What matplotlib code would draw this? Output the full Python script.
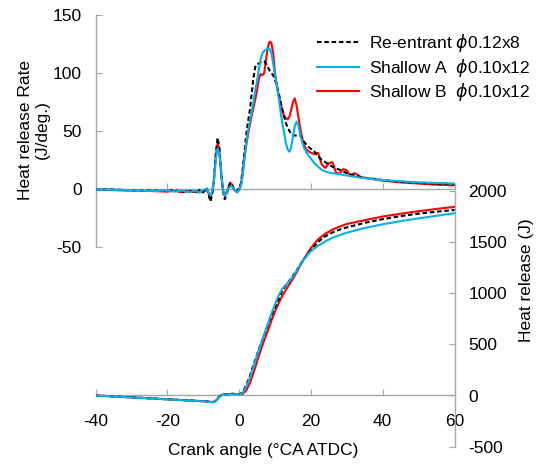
import numpy as np
import matplotlib
matplotlib.use('Agg')
import matplotlib.pyplot as plt

plt.rcParams['font.family'] = ['Liberation Sans', 'DejaVu Sans']
plt.rcParams['mathtext.fontset'] = 'dejavusans'
plt.rcParams['axes.unicode_minus'] = False

# heat release rate (J/deg.) against crank angle
ca_rate = np.concatenate([
    [-40, -36, -32, -28, -24, -20, -18, -16, -14, -12, -11, -10, -9],
    np.arange(-8.5, 18.01, 0.5),
    [19, 20, 21, 22, 23, 24, 25, 26, 27, 28, 29, 30, 31, 32, 33, 34, 36, 38, 40, 45, 50, 55, 60],
])
rate_reentrant = [
    -0.5, -0.5, -1, -1.5, -1.5, -2, -1, -3, -1.5, -3.5, -1, -3, 1,
    -5, -11, -5, 8, 30, 44, 36, 14, -2, -9, -5, 0, 5, 4, 0, -2, -2, 1,
    4, 17, 32, 47, 58, 68, 82, 96, 105, 108, 108, 109, 110, 110, 108, 105, 102, 100,
    98, 94, 89, 83, 76, 69, 63, 57, 53, 50, 47, 46, 46, 46, 46, 46, 44, 41,
    37, 34.5, 32, 28, 25, 23, 21, 19, 17.5, 16.5, 15, 13.5, 12.5, 11.5, 11, 10,
    9, 8.5, 7.5, 6, 5, 4.5, 4,
]
rate_shallow_a = [
    -0.5, -0.8, -1, -1.5, -2, -1.5, -2.5, -1.5, -3, -1.5, -3.5, -1, 0,
    -3, -6, -2, 8, 25, 35, 30, 14, -1, -6, -4, 0, 2, 2, 0, -2, -3, -1,
    2, 12, 26, 40, 50, 58, 66, 75, 85, 93, 103, 112, 117, 119, 120, 121, 121, 117,
    108, 98, 89, 79, 68, 57, 49, 40, 34, 32, 36, 45, 54, 58, 55, 47, 41, 36,
    30, 26, 22, 19, 16.5, 15, 14, 13.5, 13, 12.5, 12, 11.5, 11, 10.5, 10, 9.5,
    9, 8, 7.5, 6.5, 5.5, 5, 4.5,
]
rate_shallow_b = [
    -0.5, -1, -1.5, -1.5, -2, -2.5, -1.5, -3, -1.5, -3, -1, -3, 0,
    -4, -8, -3, 8, 28, 39, 33, 14, -1, -6, -3, 1, 5, 4, 0, -2, -3, -1,
    3, 14, 27, 38, 47, 55, 63, 70, 77, 85, 95, 99, 98, 100, 112, 122, 127, 126,
    117, 100, 90, 81, 74, 68, 63, 61, 60, 62, 68, 75, 78, 72, 62, 53, 45, 38,
    33, 31, 30, 31, 21, 18, 22, 23, 14, 13, 17, 16, 11, 13.5, 12, 10,
    9, 8, 7, 5.5, 4.5, 3.5, 3,
]

# cumulative heat release (J)
ca_heat = [-40, -30, -20, -10, -7.5, -7, -6.5, -6, -5.5, -5, -4.5, -4, -3, -2, -1, 0,
           1, 2, 3, 4, 5, 6, 7, 8, 9, 10, 11, 12, 13, 14, 15, 16, 17, 18,
           20, 22, 24, 26, 28, 30, 35, 40, 45, 50, 55, 60]
heat_reentrant = [0, -18, -37, -55, -63, -62, -50, -30, -10, 3, 10, 12, 12, 18, 14, 12,
                  30, 100, 190, 300, 400, 500, 590, 690, 780, 860, 940, 1020, 1075, 1120,
                  1170, 1220, 1275, 1330,
                  1420, 1500, 1555, 1592, 1620, 1642, 1686, 1722, 1752, 1776, 1795, 1812]
heat_shallow_a = [0, -19, -38, -57, -66, -65, -52, -34, -15, 0, 8, 10, 10, 12, 12, 10,
                  25, 85, 170, 280, 390, 490, 595, 700, 800, 890, 975, 1040, 1080, 1115,
                  1160, 1215, 1275, 1330,
                  1410, 1462, 1505, 1540, 1566, 1590, 1636, 1672, 1703, 1730, 1755, 1780]
heat_shallow_b = [0, -18, -37, -56, -64, -63, -51, -32, -12, 2, 9, 11, 11, 14, 13, 10,
                  15, 50, 120, 220, 330, 440, 540, 630, 730, 820, 900, 970, 1030, 1085,
                  1140, 1200, 1270, 1330,
                  1440, 1525, 1580, 1620, 1650, 1675, 1712, 1748, 1775, 1800, 1822, 1842]

labels = ['Re-entrant $\\phi$0.12x8', 'Shallow A  $\\phi$0.10x12', 'Shallow B  $\\phi$0.10x12']
x_ticks = [-40, -20, 0, 20, 40, 60]

grey = '#a6a6a6'
blue = '#00b0f0'
red = '#ff0000'
fs = 12.5

fig = plt.figure(figsize=(5.58, 4.65), dpi=100)
W, H = 558.0, 465.0
x0, x1 = 95.5, 454.5

# upper axes: rate, left scale
ax1 = fig.add_axes([x0 / W, 1 - 246.7 / H, (x1 - x0) / W, (246.7 - 15) / H])
ax1.patch.set_alpha(0)
ax1.plot(ca_rate, rate_shallow_b, color=red, lw=1.5, zorder=2)
ax1.plot(ca_rate, rate_reentrant, color='black', lw=1.5, dashes=(2.2, 1.3), zorder=3)
ax1.plot(ca_rate, rate_shallow_a, color=blue, lw=1.5, zorder=4)
ax1.set_xlim(-40, 60)
ax1.set_ylim(-50, 150)
ax1.set_yticks([-50, 0, 50, 100, 150])
ax1.set_xticks(x_ticks)
ax1.spines['top'].set_visible(False)
ax1.spines['right'].set_visible(False)
ax1.spines['bottom'].set_position(('data', 0))
for s in ['left', 'bottom']:
    ax1.spines[s].set_color(grey)
    ax1.spines[s].set_linewidth(1.0)
ax1.tick_params(axis='both', direction='in', length=4, color=grey, labelsize=fs, pad=10)
ax1.tick_params(axis='x', labelbottom=False)

# lower axes: cumulative heat, right scale
ax2 = fig.add_axes([x0 / W, 1 - 446.7 / H, (x1 - x0) / W, (446.7 - 190.7) / H])
ax2.patch.set_alpha(0)
ax2.plot(ca_heat, heat_shallow_b, color=red, lw=1.5, zorder=2)
ax2.plot(ca_heat, heat_reentrant, color='black', lw=1.5, dashes=(2.2, 1.3), zorder=3)
ax2.plot(ca_heat, heat_shallow_a, color=blue, lw=1.5, zorder=4)
ax2.set_xlim(-40, 60)
ax2.set_ylim(-500, 2000)
ax2.set_yticks([-500, 0, 500, 1000, 1500, 2000])
ax2.set_xticks(x_ticks)
ax2.yaxis.tick_right()
ax2.spines['top'].set_visible(False)
ax2.spines['left'].set_visible(False)
ax2.spines['bottom'].set_position(('data', 0))
for s in ['right', 'bottom']:
    ax2.spines[s].set_color(grey)
    ax2.spines[s].set_linewidth(1.0)
ax2.tick_params(axis='both', direction='in', length=4, color=grey, labelsize=fs, pad=10)
ax2.tick_params(axis='x', pad=13)

fig.text(34 / W, 1 - 130 / H, 'Heat release Rate\n(J/deg.)', rotation=90,
         ha='center', va='center', multialignment='center', fontsize=fs, linespacing=1.1)
fig.text(527 / W, 1 - 280 / H, 'Heat release (J)', rotation=90,
         ha='center', va='center', fontsize=fs)
fig.text(263 / W, 1 - 450 / H, 'Crank angle (°CA ATDC)', ha='center', va='center', fontsize=fs)

handles = [plt.Line2D([], [], color='black', lw=1.5, dashes=(2.2, 1.3)),
           plt.Line2D([], [], color=blue, lw=1.5),
           plt.Line2D([], [], color=red, lw=1.5)]
fig.legend(handles, labels, loc='upper left', bbox_to_anchor=(317 / W, 1 - 32 / H),
           frameon=False, fontsize=fs, handlelength=2.4, handletextpad=0.6,
           labelspacing=0.15, borderpad=0, borderaxespad=0)

fig.savefig('out.png', dpi=100)
